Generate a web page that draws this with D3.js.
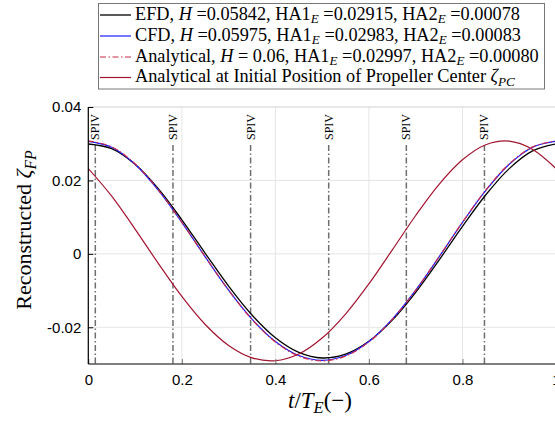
<!DOCTYPE html>
<html>
<head>
<meta charset="utf-8">
<script src="https://cdn.jsdelivr.net/npm/d3@7"></script>
<style>
  body { margin: 0; background: #fff; overflow: hidden; }
  .axis text { font-family: "Liberation Sans", Arial, sans-serif; font-size: 15px; fill: #000; }
  .serif { font-family: "Liberation Serif", "DejaVu Serif", serif; }
</style>
</head>
<body>
<div id="chart"></div>
<script>
// values, t/T_E from 0 to 1 every 0.05
const tValues = [0, 0.05, 0.1, 0.15, 0.2, 0.25, 0.3, 0.35, 0.4, 0.45, 0.5,
                 0.55, 0.6, 0.65, 0.7, 0.75, 0.8, 0.85, 0.9, 0.95, 1];
const efdValues = [0.02992, 0.02865, 0.02440, 0.01768, 0.00927, 0.00014, -0.00879, -0.01667, -0.02284, -0.02683, -0.02836,
                   -0.02733, -0.02382, -0.01806, -0.01047, -0.00170, 0.00747, 0.01609, 0.02322, 0.02803, 0.02992];
const cfdValues = [0.03066, 0.02904, 0.02439, 0.01727, 0.00855, -0.00083, -0.00989, -0.01779, -0.02387, -0.02770, -0.02900,
                   -0.02770, -0.02387, -0.01779, -0.00989, -0.00083, 0.00855, 0.01727, 0.02439, 0.02904, 0.03066];
const analyticalValues = [0.03077, 0.02915, 0.02450, 0.01737, 0.00861, -0.00080, -0.00991, -0.01787, -0.02400, -0.02785, -0.02917,
                          -0.02785, -0.02400, -0.01787, -0.00991, -0.00080, 0.00861, 0.01737, 0.02450, 0.02915, 0.03077];
const propCenterValues = [0.02324, 0.01572, 0.00675, -0.00267, -0.01161, -0.01925, -0.02496, -0.02833, -0.02912, -0.02729, -0.02294,
                          -0.01640, -0.00815, 0.00109, 0.01045, 0.01895, 0.02564, 0.02973, 0.03070, 0.02845, 0.02324];

const spivPositions = [0.015, 0.181, 0.347, 0.514, 0.680, 0.847];

const xTickValues = [0, 0.2, 0.4, 0.6, 0.8, 1];
const xTickLabels = ["0", "0.2", "0.4", "0.6", "0.8", "1"];
const yTickValues = [-0.02, 0, 0.02, 0.04];
const yTickLabels = ["-0.02", "0", "0.02", "0.04"];

const legendLabels = [
    "EFD, <i>H</i> =0.05842, HA1<sub>E</sub> =0.02915, HA2<sub>E</sub> =0.00078",
    "CFD, <i>H</i> =0.05975, HA1<sub>E</sub> =0.02983, HA2<sub>E</sub> =0.00083",
    "Analytical, <i>H</i> = 0.06, HA1<sub>E</sub> =0.02997, HA2<sub>E</sub> =0.00080",
    "Analytical at Initial Position of Propeller Center <i>ζ</i><sub>PC</sub>"
];

const series = [
    {values: efdValues, color: "#000000", width: 1.3, dash: null},
    {values: cfdValues, color: "#1a1aff", width: 1.2, dash: null},
    {values: analyticalValues, color: "#cc2a4a", width: 1.2, dash: "6,2.5,1.5,2.5"},
    {values: propCenterValues, color: "#a2142f", width: 1.2, dash: null}
];

const width = 555, height = 425;
const plot = {left: 88.3, right: 556, top: 107, bottom: 364};

const svg = d3.select("#chart").append("svg")
    .attr("width", width)
    .attr("height", height);

const x = d3.scaleLinear().domain([0, 1]).range([plot.left, plot.right]);
const y = d3.scaleLinear().domain([-0.03, 0.04]).range([plot.bottom, plot.top]);

// grid
svg.append("g")
    .selectAll("line")
    .data(xTickValues)
    .join("line")
    .attr("x1", d => x(d)).attr("x2", d => x(d))
    .attr("y1", plot.top).attr("y2", plot.bottom)
    .attr("stroke", "#e6e6e6");

svg.append("g")
    .selectAll("line")
    .data(yTickValues)
    .join("line")
    .attr("x1", plot.left).attr("x2", plot.right)
    .attr("y1", d => y(d)).attr("y2", d => y(d))
    .attr("stroke", d => d === 0.04 ? "#d0d0d0" : "#e6e6e6");

// SPIV markers
const spiv = svg.append("g");
spiv.selectAll("line")
    .data(spivPositions)
    .join("line")
    .attr("x1", d => x(d)).attr("x2", d => x(d))
    .attr("y1", 145).attr("y2", plot.bottom)
    .attr("stroke", "#6e6e6e")
    .attr("stroke-width", 1.5)
    .attr("stroke-dasharray", "6,2.5,1.5,2.5");

spiv.selectAll("text")
    .data(spivPositions)
    .join("text")
    .attr("class", "serif")
    .attr("transform", d => `translate(${x(d)},140) rotate(-90)`)
    .attr("dominant-baseline", "central")
    .attr("font-size", 12)
    .text("SPIV");

// curves
const line = d3.line()
    .x((d, i) => x(tValues[i]))
    .y(d => y(d))
    .curve(d3.curveCatmullRom);

svg.append("defs").append("clipPath").attr("id", "clip")
    .append("rect")
    .attr("x", plot.left).attr("y", plot.top)
    .attr("width", plot.right - plot.left).attr("height", plot.bottom - plot.top);

svg.append("g")
    .attr("clip-path", "url(#clip)")
    .selectAll("path")
    .data(series)
    .join("path")
    .attr("d", d => line(d.values))
    .attr("fill", "none")
    .attr("stroke", d => d.color)
    .attr("stroke-width", d => d.width)
    .attr("stroke-dasharray", d => d.dash);

// axes
const xAxis = d3.axisBottom(x)
    .tickValues(xTickValues)
    .tickFormat((d, i) => xTickLabels[i])
    .tickSize(-5)
    .tickPadding(10);

const yAxis = d3.axisLeft(y)
    .tickValues(yTickValues)
    .tickFormat((d, i) => yTickLabels[i])
    .tickSize(-5)
    .tickPadding(7);

const xAxisGroup = svg.append("g")
    .attr("class", "axis")
    .attr("transform", `translate(0,${plot.bottom})`)
    .call(xAxis);
xAxisGroup.select(".domain").remove();
xAxisGroup.selectAll(".tick line").attr("stroke", "#777");

const yAxisGroup = svg.append("g")
    .attr("class", "axis")
    .attr("transform", `translate(${plot.left},0)`)
    .call(yAxis);
yAxisGroup.select(".domain").remove();
yAxisGroup.selectAll(".tick line").attr("stroke", "#000");

svg.append("line")
    .attr("x1", plot.left).attr("x2", plot.left)
    .attr("y1", plot.top).attr("y2", plot.bottom)
    .attr("stroke", "#000").attr("stroke-width", 1.2);
svg.append("line")
    .attr("x1", plot.left).attr("x2", plot.right)
    .attr("y1", plot.bottom).attr("y2", plot.bottom)
    .attr("stroke", "#000").attr("stroke-width", 1.2);

// rich text helper: <i>..</i> italic, <sub>..</sub> italic subscript
function richText(sel, markup) {
    const parts = markup.split(/(<i>.*?<\/i>|<sub>.*?<\/sub>)/).filter(s => s.length);
    let back = false;
    parts.forEach(p => {
        let t;
        if (p.startsWith("<i>")) {
            t = sel.append("tspan").attr("font-style", "italic").text(p.slice(3, -4));
        } else if (p.startsWith("<sub>")) {
            t = sel.append("tspan").attr("font-style", "italic")
                .attr("font-size", "0.72em").attr("dy", "0.3em")
                .text(p.slice(5, -6));
        } else {
            t = sel.append("tspan").text(p);
        }
        if (back) t.attr("dy", "-0.216em");
        back = p.startsWith("<sub>");
    });
}

// axis titles
const xTitle = svg.append("text")
    .attr("class", "serif")
    .attr("x", 320).attr("y", 408)
    .attr("text-anchor", "middle")
    .attr("font-size", 23);
richText(xTitle, "<i>t</i>/<i>T</i><sub>E</sub>(−)");

const yTitle = svg.append("text")
    .attr("class", "serif")
    .attr("transform", "translate(31,230) rotate(-90)")
    .attr("text-anchor", "middle")
    .attr("font-size", 22);
richText(yTitle, "Reconstructed <i>ζ</i><sub>FP</sub>");

// legend
const legend = svg.append("g");
legend.append("rect")
    .attr("x", 98.5).attr("y", 3.5)
    .attr("width", 446).attr("height", 85.5)
    .attr("fill", "#fff")
    .attr("stroke", "#777");

const rowY = [15, 36, 57, 77.5];
const rows = legend.selectAll("g.row")
    .data(series)
    .join("g")
    .attr("class", "row")
    .attr("transform", (d, i) => `translate(0,${rowY[i]})`);

rows.append("line")
    .attr("x1", 100).attr("x2", 131)
    .attr("stroke", d => d.color)
    .attr("stroke-width", d => d.width)
    .attr("stroke-dasharray", d => d.dash);

const rowText = rows.append("text")
    .attr("class", "serif")
    .attr("x", 135).attr("y", 4.5)
    .attr("font-size", 16)
    .each(function(d, i) { richText(d3.select(this), legendLabels[i]); });

// fit the long row to its measured width in the reference
const w = rowText.nodes()[2].getBBox().width;
rowText.attr("font-size", 16 * 404 / w);
</script>
</body>
</html>
